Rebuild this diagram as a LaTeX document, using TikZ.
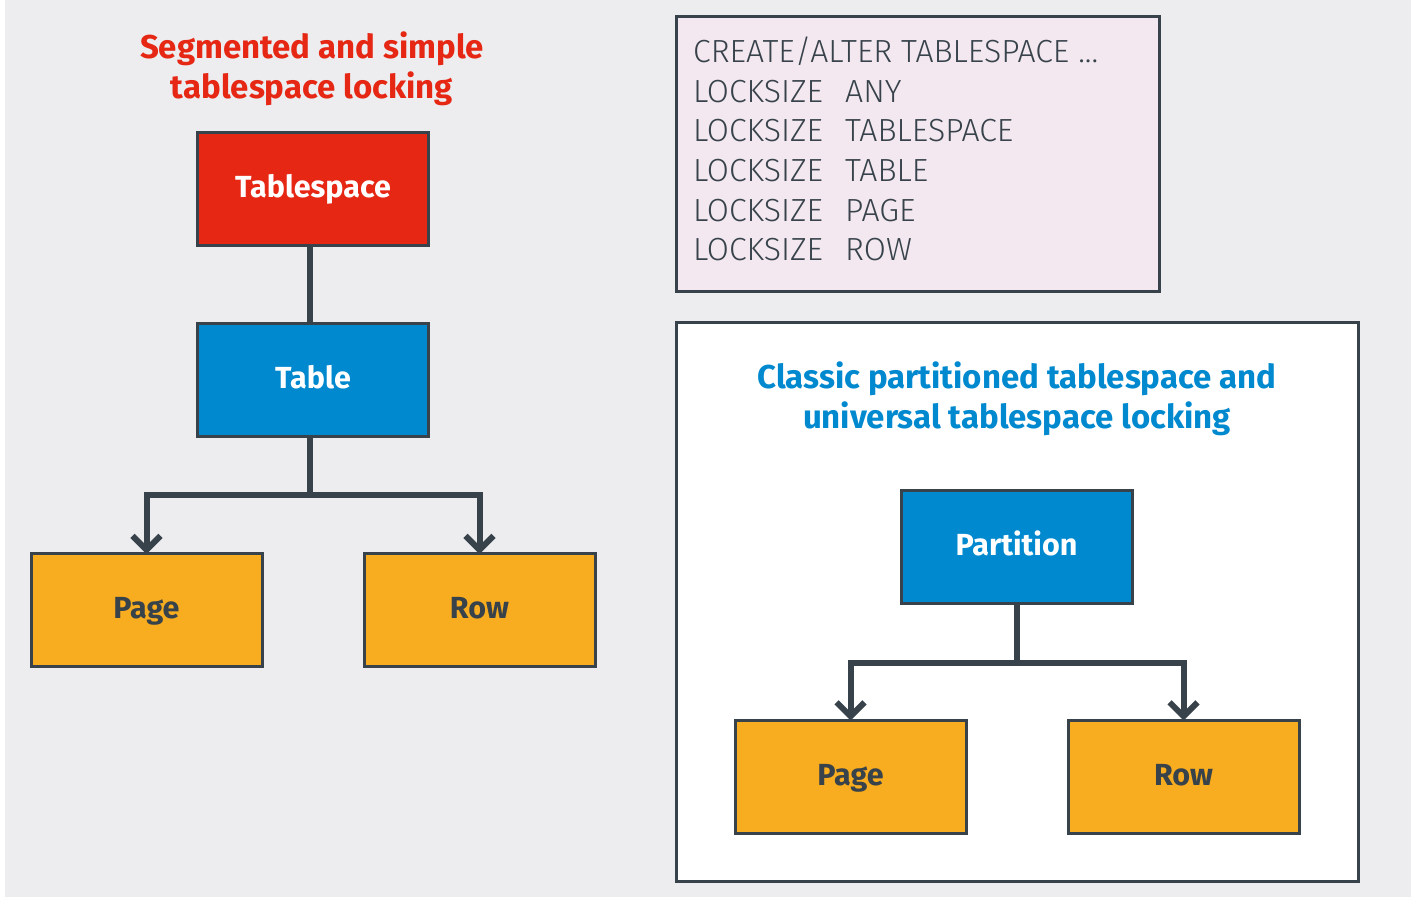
\documentclass[tikz,border=0pt]{standalone}
\usepackage{fontspec}
\setmainfont{Fira Sans}
\newfontfamily\codefont{Fira Sans Light}
\usetikzlibrary{arrows.meta}

\definecolor{lockred}{HTML}{E52713}
\definecolor{lockblue}{HTML}{0089CF}
\definecolor{lockorange}{HTML}{F8AC1F}
\definecolor{ink}{HTML}{37424A}
\definecolor{pagebg}{HTML}{EDEDF0}
\definecolor{codebg}{HTML}{F3E8F0}

\tikzset{
  level/.style={draw=ink, line width=3pt, minimum width=231pt, minimum height=113pt,
    inner sep=0pt, text height=23pt, text depth=6pt,
    font=\fontsize{30.5}{34}\selectfont\bfseries},
  redbox/.style={level, fill=lockred, text=white},
  bluebox/.style={level, fill=lockblue, text=white},
  orangebox/.style={level, fill=lockorange, text=ink},
  heading/.style={align=center, font=\fontsize{33}{40}\selectfont\bfseries, inner sep=0pt},
  codeline/.style={anchor=base west, inner sep=0pt, text=ink, font=\fontsize{32}{36}\selectfont\codefont},
  link/.style={draw=ink, line width=6pt, line join=miter},
  arrowlink/.style={link, -{Straight Barb[length=14pt, width=28pt]}},
  panel/.style={draw=ink, line width=3pt}
}

\begin{document}
\begin{tikzpicture}[x=1pt, y=-1pt]
  \useasboundingbox (0,0) rectangle (1414,897);
  \fill[pagebg] (5,0) rectangle (1411,897);

  % left: segmented and simple tablespaces
  \node[heading, text=lockred] (t1) at (312,69) {Segmented and simple\\tablespace locking};
  \node[redbox] (ts) at (313,189) {Tablespace};
  \node[bluebox] (tb) at (313,380) {Table};
  \node[orangebox] (pg) at (146.5,610) {Page};
  \node[orangebox] (rw) at (479.5,610) {Row};
  \coordinate (j1) at ([xshift=-3pt]tb.south |- 0,495);
  \draw[link] ([xshift=-3pt]ts.south) -- ([xshift=-3pt]tb.north);
  \draw[link] ([xshift=-3pt]tb.south) -- (j1);
  \draw[arrowlink] (j1) -| ([yshift=-2pt]pg.north);
  \draw[arrowlink] (j1) -| ([yshift=-2pt]rw.north);

  % DDL options
  \node[panel, fill=codebg, minimum width=483pt, minimum height=275pt, inner sep=0pt] (code) at (917.5,153.5) {};
  \node[codeline] (c0) at (693,62) {CREATE/ALTER TABLESPACE ...};
  \node[codeline] (c1) at (693,102) {LOCKSIZE};
  \node[codeline] (v1) at (845,102) {ANY};
  \node[codeline] (c2) at (693,141) {LOCKSIZE};
  \node[codeline] (v2) at (845,141) {TABLESPACE};
  \node[codeline] (c3) at (693,181) {LOCKSIZE};
  \node[codeline] (v3) at (845,181) {TABLE};
  \node[codeline] (c4) at (693,221) {LOCKSIZE};
  \node[codeline] (v4) at (845,221) {PAGE};
  \node[codeline] (c5) at (693,260) {LOCKSIZE};
  \node[codeline] (v5) at (845,260) {ROW};

  % right: partitioned and universal tablespaces
  \node[panel, fill=white, minimum width=682pt, minimum height=559pt, inner sep=0pt] (frame) at (1017,601.5) {};
  \node[heading, text=lockblue] (t2) at (1017,399) {Classic partitioned tablespace and\\universal tablespace locking};
  \node[bluebox] (pt) at (1016.5,547) {Partition};
  \node[orangebox] (pg2) at (850.5,776.5) {Page};
  \node[orangebox] (rw2) at (1183.5,776.5) {Row};
  \coordinate (j2) at (pt.south |- 0,663);
  \draw[link] (pt.south) -- (j2);
  \draw[arrowlink] (j2) -| ([yshift=-2pt]pg2.north);
  \draw[arrowlink] (j2) -| ([yshift=-2pt]rw2.north);
\end{tikzpicture}
\end{document}
